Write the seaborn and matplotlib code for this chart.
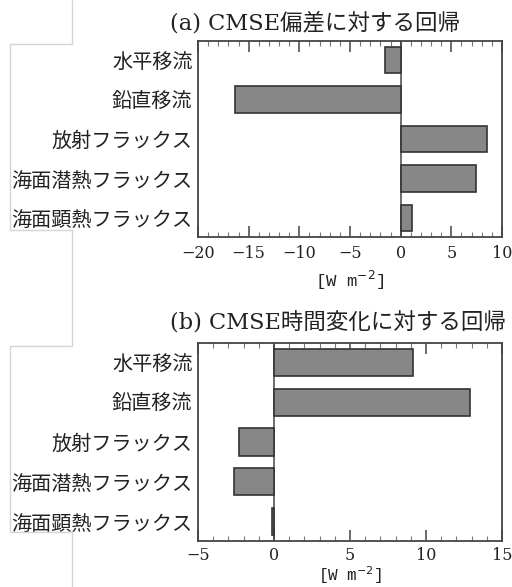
import matplotlib
matplotlib.use("Agg")
import matplotlib.pyplot as plt
from matplotlib.lines import Line2D
from matplotlib.ticker import MultipleLocator
import seaborn as sns
import pandas as pd

sns.set_theme(style="white")
plt.rcParams["font.family"] = ["DejaVu Serif", "Noto Sans CJK JP"]
plt.rcParams["axes.unicode_minus"] = True

terms = ["水平移流", "鉛直移流", "放射フラックス", "海面潜熱フラックス", "海面顕熱フラックス"]
reg_anomaly = [-1.5, -16.3, 8.55, 7.4, 1.15]
reg_tendency = [9.15, 12.9, -2.3, -2.6, -0.13]
titles = ["(a) CMSE偏差に対する回帰", "(b) CMSE時間変化に対する回帰"]
xlims = [(-20, 10), (-5, 15)]
xticks = [[-20, -15, -10, -5, 0, 5, 10], [-5, 0, 5, 10, 15]]
unit_label = r"[W m$^{-2}$]"

W, H = 512, 587
fig = plt.figure(figsize=(W / 100, H / 100), dpi=100)

axes_px = [(198, 41, 502, 237), (198, 343, 502, 541)]
title_y = [23, 323]
tick_pad = [6, 4.5]
xlabel_pad = [5, 0]
xlabel_size = [12.5, 11.5]
label_font = ["Noto Sans CJK JP", "DejaVu Sans"]

for i, (vals, box) in enumerate(zip([reg_anomaly, reg_tendency], axes_px)):
    l, t, r, b = box
    ax = fig.add_axes([l / W, 1 - b / H, (r - l) / W, (b - t) / H])
    df = pd.DataFrame({"term": terms, "value": vals})
    sns.barplot(data=df, x="value", y="term", orient="h", ax=ax,
                color="#878787", saturation=1, width=0.68,
                edgecolor="#333333", linewidth=1.2)
    ax.axvline(0, color="#555555", lw=1.2, zorder=0.5)
    ax.set_xlim(*xlims[i])
    ax.set_ylim(4.48, -0.48)
    ax.set_xticks(xticks[i])
    ax.xaxis.set_minor_locator(MultipleLocator(1))
    ax.tick_params(axis="x", which="major", direction="in", length=8, width=1.1,
                   color="#444444", top=True, bottom=True, labelsize=11.5,
                   pad=tick_pad[i])
    ax.tick_params(axis="x", which="minor", direction="in", length=3.5, width=0.8,
                   color="#777777", top=True, bottom=True)
    ax.tick_params(axis="y", length=0, pad=4)
    for lab in ax.get_yticklabels():
        lab.set_fontfamily(label_font)
        lab.set_fontsize(14.5)
        lab.set_color("#222222")
    for lab in ax.get_xticklabels():
        lab.set_color("#222222")
    ax.set_ylabel("")
    ax.set_xlabel(unit_label, family="Liberation Mono", fontsize=xlabel_size[i],
                  color="#222222", labelpad=xlabel_pad[i])
    for sp in ax.spines.values():
        sp.set_visible(True)
        sp.set_color("#444444")
        sp.set_linewidth(1.3)
    fig.text(170 / W, 1 - title_y[i] / H, titles[i], ha="left", va="center",
             fontsize=16.2, color="#222222",
             family=["DejaVu Serif", "Noto Sans CJK JP"])

# faint panel borders along the left margin
edge = "#d6d6d6"
def seg(x0, y0, x1, y1):
    fig.add_artist(Line2D([x0 / W, x1 / W], [1 - y0 / H, 1 - y1 / H],
                          color=edge, lw=1.0, transform=fig.transFigure))

seg(72, 0, 72, 44)
seg(10, 44, 72, 44)
seg(10, 44, 10, 230)
seg(10, 230, 72, 230)
seg(72, 230, 72, 346)
seg(10, 346, 72, 346)
seg(10, 346, 10, 532)
seg(10, 532, 72, 532)
seg(72, 532, 72, 587)

fig.savefig("out.png", dpi=100)
